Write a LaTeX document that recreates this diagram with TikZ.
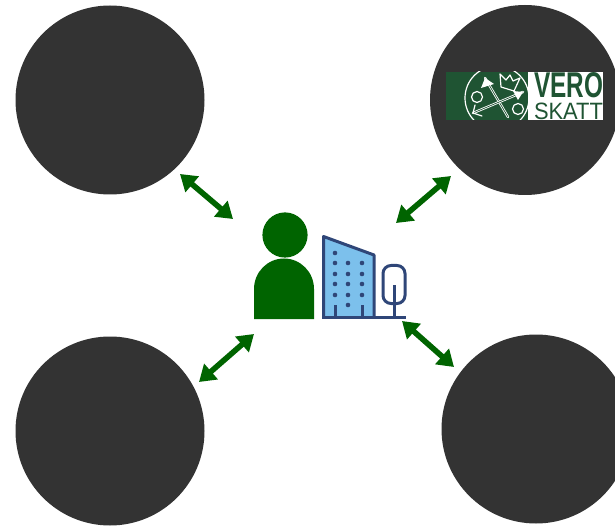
\documentclass[tikz,border=0pt]{standalone}
\usepackage{fontspec}
\usepackage{graphicx}
\setmainfont{Liberation Sans}
\usetikzlibrary{arrows.meta}
\definecolor{disc}{HTML}{333333}
\definecolor{leaf}{HTML}{006400}
\definecolor{vero}{HTML}{1F5433}
\definecolor{tower}{HTML}{7CC0EC}
\definecolor{navy}{HTML}{2F4678}
\tikzset{
  disc/.style={circle,fill=disc,draw=none,inner sep=0pt,minimum size=189pt},
  link/.style={leaf,line width=5.6pt,{Triangle[length=16pt,width=20pt]}-{Triangle[length=16pt,width=20pt]}},
  navyline/.style={navy,line width=3pt,line join=round,line cap=butt},
  crest/.style={white,line width=1.2pt,line cap=round,line join=round},
  dot/.style={circle,fill=navy,draw=none,inner sep=0pt,minimum size=4.6pt},
  logotext/.style={inner sep=0pt,outer sep=0pt,text=vero,anchor=south west}
}
\begin{document}
\begin{tikzpicture}[x=1pt,y=-1pt]
\useasboundingbox (0,0) rectangle (615,526);
\clip (0,0) rectangle (615,526);
\fill[white] (0,0) rectangle (615,526);
% discs
\node[disc] (tl) at (110,100) {};
\node[disc,minimum size=190pt] (tr) at (525,100) {};
\node[disc] (bl) at (110,431) {};
\node[disc] (br) at (536,429) {};
% connector ends
\coordinate (tlA) at (180,174);
\coordinate (tlB) at (233,219);
\coordinate (trA) at (451,176);
\coordinate (trB) at (396,223);
\coordinate (blA) at (254,334);
\coordinate (blB) at (199,382);
\coordinate (brA) at (402,321);
\coordinate (brB) at (454,367);
\draw[link] (tlA) -- (tlB);
\draw[link] (trA) -- (trB);
\draw[link] (blA) -- (blB);
\draw[link] (brA) -- (brB);
% person
\fill[leaf] (285,235) circle[radius=22.6];
\fill[leaf] (254,319) -- (254,289) arc[start angle=180,end angle=360,x radius=30,y radius=30.5] -- (314,319) -- cycle;
% building
\fill[tower] (323.5,236.5) -- (374,255) -- (374,317) -- (323.5,317) -- cycle;
\draw[navyline] (323.5,317) -- (323.5,236.5) -- (374,255) -- (374,317);
\draw[navyline] (322,317.3) -- (406,317.3);
\draw[navyline] (335,317) -- (335,305);
\draw[navyline] (362,317) -- (362,305);
\foreach \px/\py in {335/253,335/263,348/263,362/263,335/274,348/274,362/274,335/284,348/284,362/284,335/295,348/295,362/295,348/305}
  \node[dot] at (\px,\py) {};
% tree
\draw[navyline,rounded corners=8pt] (383,265.5) rectangle (405,303.5);
\draw[navyline] (394,317) -- (394,285);
% tax logo
\fill[white] (446,72) rectangle (603,120);
\fill[vero] (446,72) rectangle (528,120);
\begin{scope}
\clip (446,72) rectangle (528,120);
\draw[crest] (497,98) circle[radius=32];
\draw[crest] (477,97) circle[radius=5.5];
\draw[crest] (518,109) circle[radius=5.5];
\draw[crest,line width=2.4pt] (485,78) -- (508,117);
\draw[vero,line width=0.7pt] (485,78) -- (508,117);
\draw[crest,line width=2.4pt] (523,92) -- (473,113);
\draw[vero,line width=0.7pt] (523,92) -- (473,113);
\fill[white] (481,88) -- (485,78) -- (494,84) -- cycle;
\fill[white] (513,91) -- (523,92) -- (518,100) -- cycle;
\draw[crest] (475,105) -- (473,113) -- (482,116);
\draw[crest] (500,74) -- (501,87) -- (514,91) -- (520,78) -- (513,81) -- (510,75) -- (506,80) -- cycle;
\end{scope}
\node[logotext] (veroword) at (534,119.5) {\vbox{\offinterlineskip\hbox{\resizebox{69pt}{25pt}{\bfseries VERO}}\kern4.5pt\hbox{\resizebox{69pt}{16.5pt}{SKATT}}}};
\end{tikzpicture}
\end{document}
